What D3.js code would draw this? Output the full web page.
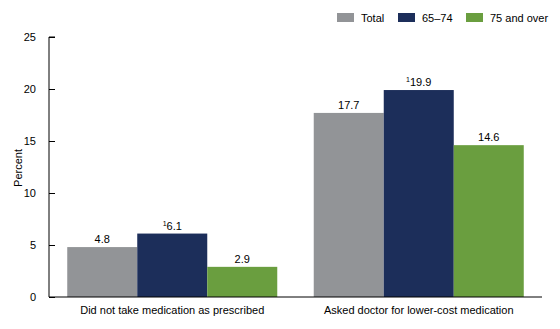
<!DOCTYPE html>
<html>
<head>
<meta charset="utf-8">
<script src="https://cdn.jsdelivr.net/npm/d3@7"></script>
<style>
  html, body { margin: 0; padding: 0; background: #fff; }
  svg { display: block; font-family: "Liberation Sans", Arial, sans-serif; }
</style>
</head>
<body>
<svg id="chart" width="560" height="329"></svg>
<script>
// Medication cost-saving strategies by age group
const categories = ["Did not take medication as prescribed", "Asked doctor for lower-cost medication"];
const seriesNames = ["Total", "65\u201374", "75 and over"];
const totalValues = [4.8, 17.7];
const age6574Values = [6.1, 19.9];
const age75Values = [2.9, 14.6];
const footnoteFlags = [["", "1", ""], ["", "1", ""]];
const yTicks = [0, 5, 10, 15, 20, 25];
const colors = ["#929497", "#1c2e5a", "#6a9e3f"];

const seriesValues = [totalValues, age6574Values, age75Values];

const svg = d3.select("#chart");
const margin = { left: 49, right: 18, top: 37, bottom: 32 };
const width = 560, height = 329;

const x0 = d3.scaleBand()
  .domain(categories)
  .range([margin.left, width - margin.right])
  .paddingInner(0.148)
  .paddingOuter(0.074);

const x1 = d3.scaleBand()
  .domain(seriesNames)
  .range([0, x0.bandwidth()])
  .padding(0);

const y = d3.scaleLinear()
  .domain([0, 25])
  .range([height - margin.bottom, margin.top]);

// Bars
categories.forEach((cat, ci) => {
  const g = svg.append("g").attr("transform", `translate(${x0(cat)},0)`);
  seriesNames.forEach((s, si) => {
    const v = seriesValues[si][ci];
    g.append("rect")
      .attr("x", x1(s))
      .attr("y", y(v))
      .attr("width", x1.bandwidth())
      .attr("height", y(0) - y(v))
      .attr("fill", colors[si]);
    const t = g.append("text")
      .attr("x", x1(s) + x1.bandwidth() / 2)
      .attr("y", y(v) - 4)
      .attr("text-anchor", "middle")
      .attr("font-size", 11)
      .attr("fill", "#000");
    const fn = footnoteFlags[ci][si];
    if (fn) {
      t.append("tspan").attr("font-size", 7).attr("dy", -4).text(fn);
      t.append("tspan").attr("dy", 4).text(v.toFixed(1));
    } else {
      t.text(v.toFixed(1));
    }
  });
});

// Y axis
const yAxis = d3.axisRight(y).tickValues(yTicks).tickSize(6).tickFormat(d3.format("d"));
const yg = svg.append("g")
  .attr("transform", `translate(${margin.left},0)`)
  .call(yAxis);
yg.select(".domain").attr("stroke", "#000").attr("d", `M6,${y(25)}H0V${y(0)}`);
yg.selectAll(".tick line").attr("stroke", "#000");
yg.selectAll(".tick text")
  .attr("x", -13)
  .attr("text-anchor", "end")
  .attr("font-size", 11)
  .attr("font-family", "Liberation Sans, Arial, sans-serif")
  .attr("fill", "#000");

// X axis
const xAxis = d3.axisBottom(x0).tickSize(0).tickPadding(9);
const xg = svg.append("g")
  .attr("transform", `translate(0,${y(0)})`)
  .call(xAxis);
xg.select(".domain").attr("stroke", "#000").attr("d", `M${margin.left},0H${width - margin.right}`);
xg.selectAll(".tick text")
  .attr("font-size", 11)
  .attr("font-family", "Liberation Sans, Arial, sans-serif")
  .attr("fill", "#000");

// Y axis title
svg.append("text")
  .attr("transform", `translate(22,${(y(0) + y(25)) / 2 + 1}) rotate(-90)`)
  .attr("text-anchor", "middle")
  .attr("font-size", 11)
  .text("Percent");

// Legend
const legendX = [337, 398, 466];
seriesNames.forEach((s, i) => {
  svg.append("rect")
    .attr("x", legendX[i]).attr("y", 13)
    .attr("width", 17).attr("height", 9)
    .attr("fill", colors[i]);
  svg.append("text")
    .attr("x", legendX[i] + 24).attr("y", 21.5)
    .attr("font-size", 11)
    .text(s);
});
</script>
</body>
</html>
